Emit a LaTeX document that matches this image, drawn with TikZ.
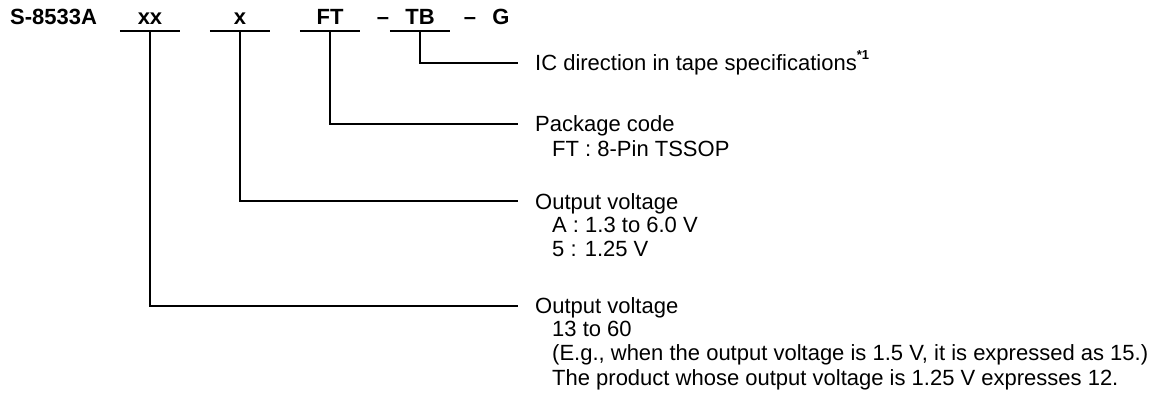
\documentclass[tikz,border=0pt]{standalone}
\usepackage{fontspec}
\setmainfont{Liberation Sans}
\usetikzlibrary{positioning}

\begin{document}
\begin{tikzpicture}[x=1pt, y=-1pt,
  every node/.style = {inner sep=0pt, font=\fontsize{22}{24.5}\selectfont},
  field/.style = {anchor=base, minimum width=60pt, text height=16pt, text depth=6pt,
    font=\fontsize{22}{24.5}\selectfont\bfseries},
  head/.style = {anchor=base west, text height=17pt, text depth=2pt},
  sub/.style = {align=left, execute at begin node=\rule{0pt}{17pt}},
  wire/.style = {line width=2pt, shorten >=17pt}]
  \useasboundingbox (0,0) rectangle (1172,406);
  % part number fields
  \node[anchor=base west, font=\fontsize{22}{24.5}\selectfont\bfseries] (pn) at (10,25) {S-8533A};
  \node[field] (f-xx) at (150,25) {xx};
  \node[field] (f-x) at (240,25) {x};
  \node[field] (f-ft) at (330,25) {FT};
  \node[field, minimum width=0pt] (dash1) at (383,25) {--};
  \node[field] (f-tb) at (420,25) {TB};
  \node[field, minimum width=0pt] (dash2) at (470,25) {--};
  \node[field, minimum width=0pt] (g) at (501,25) {G};
  \foreach \f in {f-xx,f-x,f-ft,f-tb}
    \draw[line width=2pt] (\f.south west) -- (\f.south east);
  % descriptions
  \node[head] (d-tb) at (535,71) {IC direction in tape specifications\raisebox{11pt}{\fontsize{13}{13}\selectfont\bfseries *1}};
  \node[head] (d-ft) at (535,132) {Package code};
  \node[sub, below right=5.5pt and 17pt of d-ft.south west] (s-ft) {FT : 8-Pin TSSOP};
  \node[head] (d-x) at (535,209) {Output voltage};
  \node[sub, below right=5.5pt and 17pt of d-x.south west] (s-x) {A : 1.3 to 6.0 V\\5 : 1.25 V};
  \node[head] (d-xx) at (535,313) {Output voltage};
  \node[sub, below right=5.5pt and 17pt of d-xx.south west] (s-xx) {13 to 60\\(E.g., when the output voltage is 1.5 V, it is expressed as 15.)\\The product whose output voltage is 1.25 V expresses 12.};
  % connectors
  \draw[wire] (f-tb.south) |- (d-tb.west);
  \draw[wire] (f-ft.south) |- (d-ft.west);
  \draw[wire] (f-x.south) |- (d-x.west);
  \draw[wire] (f-xx.south) |- (d-xx.west);
\end{tikzpicture}
\end{document}
